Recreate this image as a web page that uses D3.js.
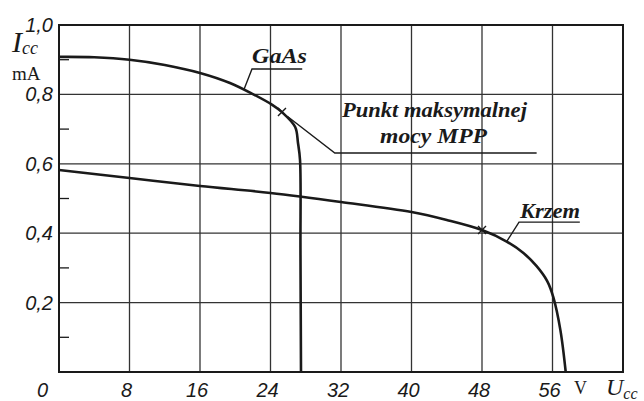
<!DOCTYPE html>
<html>
<head>
<meta charset="utf-8">
<script src="https://cdn.jsdelivr.net/npm/d3@7"></script>
<style>
  body { margin: 0; background: #fff; }
  svg { display: block; }
  .tick { font-family: "Liberation Sans", Arial, sans-serif; font-style: italic; font-size: 20px; fill: #1a1a1a; }
  .serif { font-family: "Liberation Serif", "DejaVu Serif", serif; fill: #1a1a1a; }
</style>
</head>
<body>
<svg></svg>
<script>
// charakterystyki I-U ogniw: GaAs i krzem
var gaasU = [0, 4, 8, 12, 16, 19.4, 22, 24.2, 25.3, 26.8, 27.12, 27.35, 27.4, 27.46];
var gaasI = [0.908, 0.907, 0.900, 0.885, 0.862, 0.833, 0.801, 0.770, 0.749, 0.706, 0.660, 0.611, 0.35, 0];

var siU = [0, 8, 16, 24, 32, 40, 44, 48, 50.8, 52.7, 54.2, 55.4, 56.1, 56.9, 57.5];
var siI = [0.582, 0.559, 0.536, 0.516, 0.490, 0.461, 0.438, 0.409, 0.376, 0.343, 0.305, 0.262, 0.215, 0.12, 0];

// punkty mocy maksymalnej (MPP)
var mppU = [25.3, 48];
var mppI = [0.749, 0.409];

var xTicks = [0, 8, 16, 24, 32, 40, 48, 56];
var xLabels = ["0", "8", "16", "24", "32", "40", "48", "56"];
var yTicks = [0.2, 0.4, 0.6, 0.8, 1.0];
var yLabels = ["0,2", "0,4", "0,6", "0,8", "1,0"];
var yMinor = [0.1, 0.3, 0.5, 0.7, 0.9];

var svgWidth = 644, svgHeight = 401;

var svg = d3.select("svg")
    .attr("width", svgWidth)
    .attr("height", svgHeight);

var x = d3.scaleLinear().domain([0, 64]).range([59, 623]);
var y = d3.scaleLinear().domain([0, 1]).range([372, 25]);

var ink = "#1a1a1a";

// siatka
svg.selectAll(".vgrid")
    .data(xTicks.slice(1))
    .enter().append("line")
    .attr("x1", function(d) { return x(d); })
    .attr("x2", function(d) { return x(d); })
    .attr("y1", y(0)).attr("y2", y(1))
    .attr("stroke", "#333").attr("stroke-width", 1.3);

svg.selectAll(".hgrid")
    .data(yTicks.slice(0, -1))
    .enter().append("line")
    .attr("x1", x(0)).attr("x2", x(64))
    .attr("y1", function(d) { return y(d); })
    .attr("y2", function(d) { return y(d); })
    .attr("stroke", "#333").attr("stroke-width", 1.3);

// male kreski na osi I
svg.selectAll(".minor")
    .data(yMinor)
    .enter().append("line")
    .attr("x1", x(0)).attr("x2", x(0) + 10)
    .attr("y1", function(d) { return y(d); })
    .attr("y2", function(d) { return y(d); })
    .attr("stroke", ink).attr("stroke-width", 1.3);

// ramka
svg.append("rect")
    .attr("x", x(0)).attr("y", y(1))
    .attr("width", x(64) - x(0)).attr("height", y(0) - y(1))
    .attr("fill", "none").attr("stroke", ink).attr("stroke-width", 2);

// krzywe
var line = d3.line()
    .x(function(d) { return x(d[0]); })
    .y(function(d) { return y(d[1]); })
    .curve(d3.curveCatmullRom.alpha(0.5));

svg.append("path")
    .attr("d", line(d3.zip(gaasU, gaasI)))
    .attr("fill", "none").attr("stroke", ink).attr("stroke-width", 2.6);

svg.append("path")
    .attr("d", line(d3.zip(siU, siI)))
    .attr("fill", "none").attr("stroke", ink).attr("stroke-width", 2.6);

// znaczniki MPP
d3.zip(mppU, mppI).forEach(function(p) {
    var cx = x(p[0]), cy = y(p[1]);
    svg.append("path")
        .attr("d", "M" + (cx - 4) + "," + (cy - 4) + "L" + (cx + 4) + "," + (cy + 4) +
                   "M" + (cx - 4) + "," + (cy + 4) + "L" + (cx + 4) + "," + (cy - 4))
        .attr("stroke", ink).attr("stroke-width", 1.4);
});

// opisy osi
svg.selectAll(".xl")
    .data(xTicks)
    .enter().append("text")
    .attr("class", "tick")
    .attr("x", function(d) { return d === 0 ? x(d) - 11 : x(d) - 3; })
    .attr("y", 397)
    .attr("text-anchor", function(d) { return d === 0 ? "end" : "middle"; })
    .text(function(d, i) { return xLabels[i]; });

svg.selectAll(".yl")
    .data(yTicks)
    .enter().append("text")
    .attr("class", "tick")
    .attr("x", x(0) - 6)
    .attr("y", function(d) { return y(d) + 7; })
    .attr("text-anchor", "end")
    .text(function(d, i) { return yLabels[i]; });

svg.append("text").attr("class", "serif")
    .attr("x", 574).attr("y", 394).attr("font-size", 18).text("V");
var ux = svg.append("text").attr("class", "serif")
    .attr("x", 606).attr("y", 395).attr("font-style", "italic").attr("font-size", 24);
ux.append("tspan").text("U");
ux.append("tspan").attr("font-size", 16).attr("dy", 4).text("cc");

var iy = svg.append("text").attr("class", "serif")
    .attr("x", 12).attr("y", 52).attr("font-style", "italic").attr("font-size", 30);
iy.append("tspan").text("I");
iy.append("tspan").attr("font-size", 18).attr("dy", 2).text("cc");
svg.append("text").attr("class", "serif")
    .attr("x", 12).attr("y", 80).attr("font-size", 19).text("mA");

// adnotacje
function label(txt, u, i, len, anchor) {
    return svg.append("text").attr("class", "serif")
        .attr("x", x(u)).attr("y", y(i))
        .attr("font-style", "italic").attr("font-weight", "bold").attr("font-size", 20)
        .attr("text-anchor", anchor || "start")
        .attr("textLength", len).attr("lengthAdjust", "spacingAndGlyphs")
        .text(txt);
}
function leader(pts) {
    svg.append("path")
        .attr("d", d3.line().x(function(d) { return x(d[0]); }).y(function(d) { return y(d[1]); })(pts))
        .attr("fill", "none").attr("stroke", ink).attr("stroke-width", 1.4);
}

label("GaAs", 21.9, 0.890, 55);
leader([[21.0, 0.815], [21.9, 0.873], [27.6, 0.873]]);

label("Punkt maksymalnej", 42.6, 0.735, 185, "middle");
label("mocy MPP", 42.5, 0.660, 107, "middle");
leader([[25.9, 0.737], [31.3, 0.631], [54.2, 0.631]]);

label("Krzem", 52.3, 0.444, 60);
leader([[50.8, 0.376], [52.2, 0.432], [59.1, 0.432]]);
</script>
</body>
</html>
